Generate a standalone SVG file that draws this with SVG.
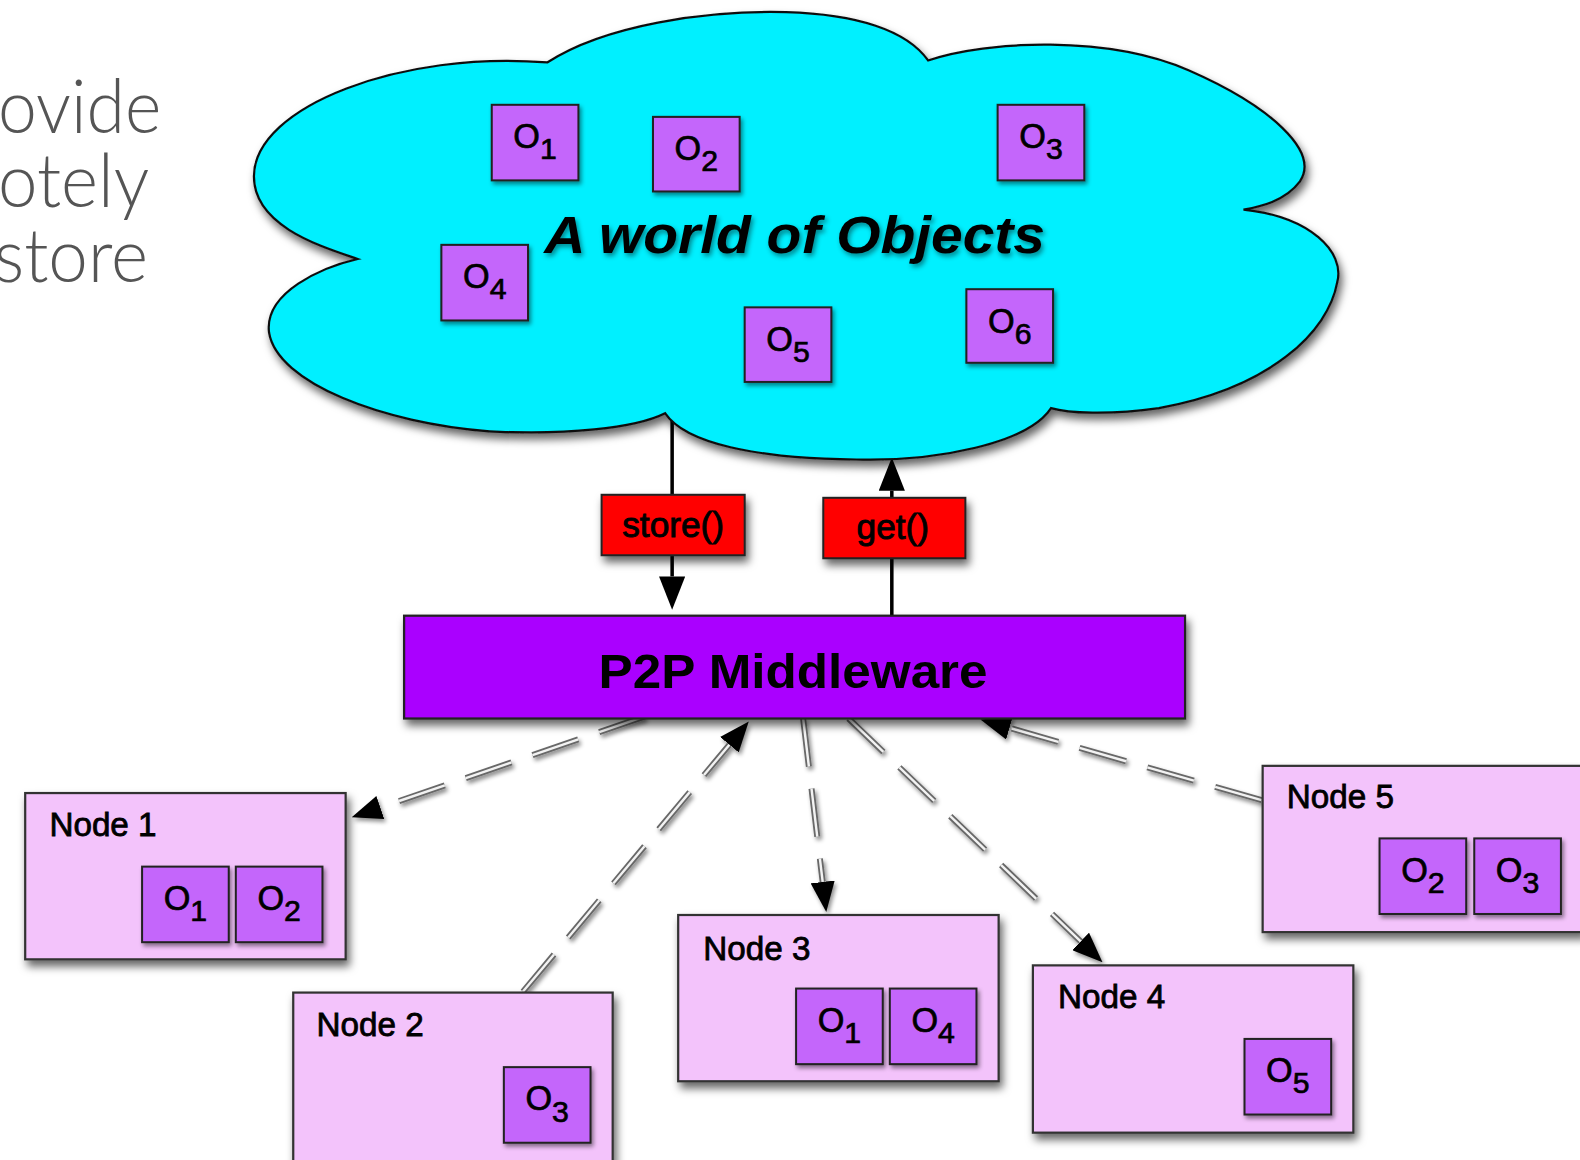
<svg xmlns="http://www.w3.org/2000/svg" width="1580" height="1160" viewBox="0 0 1580 1160">
  <defs>
    <filter id="sh" x="-10%" y="-10%" width="130%" height="140%">
      <feDropShadow dx="3" dy="6" stdDeviation="4" flood-color="#000" flood-opacity="0.6"/>
    </filter>
    <filter id="shs" x="-20%" y="-20%" width="150%" height="160%">
      <feDropShadow dx="2" dy="3" stdDeviation="2" flood-color="#000" flood-opacity="0.45"/>
    </filter>
    <filter id="tsh" x="-5%" y="-20%" width="110%" height="150%">
      <feDropShadow dx="2" dy="3" stdDeviation="2.5" flood-color="#000" flood-opacity="0.45"/>
    </filter>
    <marker id="head" viewBox="0 -12 30 24" refX="0" refY="0" markerWidth="30" markerHeight="24" markerUnits="userSpaceOnUse" orient="auto">
      <path d="M0,-12 L30,0 L0,12 z" fill="#000"/>
    </marker>
    <marker id="solidhead" viewBox="0 -13 33 26" refX="0" refY="0" markerWidth="33" markerHeight="26" markerUnits="userSpaceOnUse" orient="auto">
      <path d="M0,-13 L33,0 L0,13 z" fill="#000"/>
    </marker>
  </defs>
  <style>
    .cloud { fill:#00f0ff; stroke:#111; stroke-width:2.2; filter:url(#sh); }
    .obj { fill:#c466fb; stroke:#222; stroke-width:2; filter:url(#shs); }
    .node { fill:#f3c3fb; stroke:#333; stroke-width:2.2; filter:url(#sh); }
    .mw { fill:#aa00ff; stroke:#222; stroke-width:2.2; filter:url(#sh); }
    .op { fill:#ff0000; stroke:#222; stroke-width:2; filter:url(#sh); }
    .lbl { font-family:"Liberation Sans", Arial, sans-serif; fill:#000; }
    .olbl { font-size:34px; text-anchor:middle; stroke:#000; stroke-width:0.7; }
    .sub { font-size:30px; }
    .nlbl { font-size:33px; stroke:#000; stroke-width:0.8; }
    .oplbl { font-size:35px; text-anchor:middle; stroke:#000; stroke-width:0.9; }
    .side { font-family:Lato, "Open Sans", "DejaVu Sans", sans-serif; font-weight:300; font-size:74px; fill:#555; }
    .dash-o { fill:none; stroke:#686868; stroke-width:6; stroke-dasharray:48 22; }
    .dash-i { fill:none; stroke:#f2f2f2; stroke-width:2.4; stroke-dasharray:48 22; }
    .solid { fill:none; stroke:#000; stroke-width:3.5; }
  </style>
  <rect width="1580" height="1160" fill="#fff"/>
  <g transform="scale(1.0077)">
    <!-- slide text running in from the left edge -->
    <g id="side-text">
      <text class="side" x="-2" y="132" textLength="162" lengthAdjust="spacingAndGlyphs">ovide</text>
      <text class="side" x="-2" y="205" textLength="150" lengthAdjust="spacingAndGlyphs">otely</text>
      <text class="side" x="-6" y="280" textLength="153" lengthAdjust="spacingAndGlyphs">store</text>
    </g>

    <!-- connectors -->
    <g id="connectors">
      <!-- store(): cloud down to middleware -->
      <line class="solid" x1="667" y1="407" x2="667" y2="572" marker-end="url(#solidhead)"/>
      <!-- get(): middleware up to cloud -->
      <line class="solid" x1="885" y1="611" x2="885" y2="487" marker-end="url(#solidhead)"/>
      <g filter="url(#shs)">
        <!-- middleware to Node 1 -->
        <line class="dash-o" x1="640" y1="711" x2="377.4" y2="801.3" marker-end="url(#head)"/>
        <line class="dash-i" x1="640" y1="711" x2="377.4" y2="801.3"/>
        <!-- Node 2 to middleware -->
        <line class="dash-o" x1="519" y1="984" x2="723.8" y2="739" marker-end="url(#head)"/>
        <line class="dash-i" x1="519" y1="984" x2="723.8" y2="739"/>
        <!-- middleware to Node 3 -->
        <line class="dash-o" x1="797" y1="713" x2="816.4" y2="875.2" marker-end="url(#head)"/>
        <line class="dash-i" x1="797" y1="713" x2="816.4" y2="875.2"/>
        <!-- middleware to Node 4 -->
        <line class="dash-o" x1="842" y1="713" x2="1072.4" y2="934.2" marker-end="url(#head)"/>
        <line class="dash-i" x1="842" y1="713" x2="1072.4" y2="934.2"/>
        <!-- Node 5 to middleware -->
        <line class="dash-o" x1="1252" y1="794" x2="1001.8" y2="722.3" marker-end="url(#head)"/>
        <line class="dash-i" x1="1252" y1="794" x2="1001.8" y2="722.3"/>
      </g>
    </g>

    <!-- the object cloud -->
    <g id="cloud">
      <path class="cloud" d="M355,257
        C320,245 252,225 252,175
        C252,105 400,50 543,62
        C600,25 700,10 780,12
        C850,14 900,30 921,60
        C980,40 1100,35 1180,70
        C1260,105 1310,150 1290,180
        C1275,200 1250,205 1234,208
        C1300,215 1335,250 1327,280
        C1318,330 1260,385 1150,405
        C1100,412 1060,410 1043,405
        C1020,440 930,458 850,456
        C750,455 680,440 660,410
        C630,425 560,432 486,428
        C380,420 275,380 267,330
        C262,290 320,265 355,257 Z"/>
      <text class="lbl" x="540" y="251" font-size="52" font-weight="bold" font-style="italic" textLength="497" lengthAdjust="spacingAndGlyphs" filter="url(#tsh)">A world of Objects</text>
      <g id="cloud-o1"><rect class="obj" x="488" y="104" width="86" height="75"/><text class="lbl olbl" x="531" y="147">O<tspan class="sub" dy="11">1</tspan></text></g>
      <g id="cloud-o2"><rect class="obj" x="648" y="116" width="86" height="74"/><text class="lbl olbl" x="691" y="159">O<tspan class="sub" dy="11">2</tspan></text></g>
      <g id="cloud-o3"><rect class="obj" x="990" y="104" width="86" height="75"/><text class="lbl olbl" x="1033" y="147">O<tspan class="sub" dy="11">3</tspan></text></g>
      <g id="cloud-o4"><rect class="obj" x="438" y="243" width="86" height="75"/><text class="lbl olbl" x="481" y="286">O<tspan class="sub" dy="11">4</tspan></text></g>
      <g id="cloud-o5"><rect class="obj" x="739" y="305" width="86" height="74"/><text class="lbl olbl" x="782" y="348">O<tspan class="sub" dy="11">5</tspan></text></g>
      <g id="cloud-o6"><rect class="obj" x="959" y="287" width="86" height="73"/><text class="lbl olbl" x="1002" y="330">O<tspan class="sub" dy="11">6</tspan></text></g>
    </g>

    <!-- API calls -->
    <g id="op-store">
      <rect class="op" x="597" y="491" width="142" height="60"/>
      <text class="lbl oplbl" x="668" y="533">store()</text>
    </g>
    <g id="op-get">
      <rect class="op" x="817" y="494" width="141" height="60"/>
      <text class="lbl oplbl" x="886" y="535">get()</text>
    </g>

    <!-- middleware layer -->
    <g id="middleware">
      <rect class="mw" x="401" y="611" width="775" height="102"/>
      <text class="lbl" x="787" y="683" font-size="48" font-weight="bold" text-anchor="middle" textLength="386" lengthAdjust="spacingAndGlyphs">P2P Middleware</text>
    </g>

    <!-- peer nodes -->
    <g id="node1">
      <rect class="node" x="25" y="787" width="318" height="165"/>
      <text class="lbl nlbl" x="49" y="830">Node 1</text>
      <rect class="obj" x="141" y="860" width="86" height="75"/><text class="lbl olbl" x="184" y="903">O<tspan class="sub" dy="11">1</tspan></text>
      <rect class="obj" x="234" y="860" width="86" height="75"/><text class="lbl olbl" x="277" y="903">O<tspan class="sub" dy="11">2</tspan></text>
    </g>
    <g id="node2">
      <rect class="node" x="291" y="985" width="317" height="190"/>
      <text class="lbl nlbl" x="314" y="1028">Node 2</text>
      <rect class="obj" x="500" y="1059" width="86" height="75"/><text class="lbl olbl" x="543" y="1102">O<tspan class="sub" dy="11">3</tspan></text>
    </g>
    <g id="node3">
      <rect class="node" x="673" y="908" width="318" height="165"/>
      <text class="lbl nlbl" x="698" y="953">Node 3</text>
      <rect class="obj" x="790" y="981" width="86" height="75"/><text class="lbl olbl" x="833" y="1024">O<tspan class="sub" dy="11">1</tspan></text>
      <rect class="obj" x="883" y="981" width="86" height="75"/><text class="lbl olbl" x="926" y="1024">O<tspan class="sub" dy="11">4</tspan></text>
    </g>
    <g id="node4">
      <rect class="node" x="1025" y="958" width="318" height="166"/>
      <text class="lbl nlbl" x="1050" y="1000">Node 4</text>
      <rect class="obj" x="1235" y="1031" width="86" height="75"/><text class="lbl olbl" x="1278" y="1074">O<tspan class="sub" dy="11">5</tspan></text>
    </g>
    <g id="node5">
      <rect class="node" x="1253" y="760" width="318" height="165"/>
      <text class="lbl nlbl" x="1277" y="802">Node 5</text>
      <rect class="obj" x="1369" y="832" width="86" height="75"/><text class="lbl olbl" x="1412" y="875">O<tspan class="sub" dy="11">2</tspan></text>
      <rect class="obj" x="1463" y="832" width="86" height="75"/><text class="lbl olbl" x="1506" y="875">O<tspan class="sub" dy="11">3</tspan></text>
    </g>
  </g>
</svg>
